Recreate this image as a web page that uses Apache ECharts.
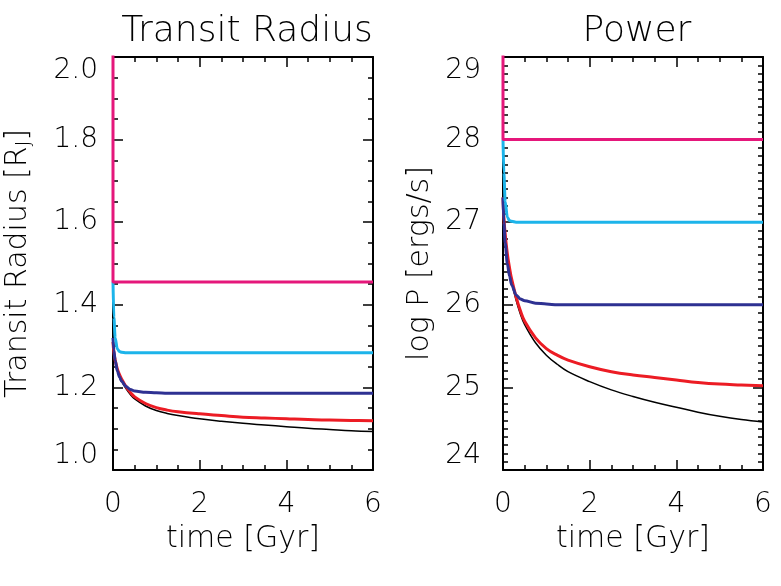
<!DOCTYPE html>
<html>
<head>
<meta charset="utf-8">
<script src="https://cdn.jsdelivr.net/npm/echarts@6/dist/echarts.min.js"></script>
<style>
  html, body { margin: 0; padding: 0; background: #fff; }
  #chart { width: 781px; height: 586px; }
</style>
</head>
<body>
<div id="chart"></div>
<script>
// time grid [Gyr]
const times = [0, 0.02, 0.05, 0.1, 0.15, 0.2, 0.3, 0.4, 0.5, 0.75, 1, 1.25, 1.5, 2, 2.5, 3, 3.5, 4, 4.5, 5, 5.5, 6];

// transit radius [R_J]
const radiusBlack = [1.31, 1.285, 1.265, 1.243, 1.228, 1.216, 1.197, 1.183, 1.172, 1.155, 1.144, 1.137, 1.132, 1.124, 1.118, 1.113, 1.109, 1.105, 1.101, 1.098, 1.095, 1.093];
const radiusRed = [1.31, 1.285, 1.266, 1.245, 1.231, 1.22, 1.202, 1.188, 1.177, 1.161, 1.151, 1.145, 1.141, 1.136, 1.132, 1.128, 1.126, 1.124, 1.122, 1.121, 1.12, 1.119];
const radiusNavy = [1.32, 1.29, 1.265, 1.24, 1.225, 1.215, 1.202, 1.195, 1.191, 1.188, 1.187, 1.186, 1.186, 1.186, 1.186, 1.186, 1.186, 1.186, 1.186, 1.186, 1.186, 1.186];
const radiusCyan = [1.455, 1.37, 1.32, 1.293, 1.287, 1.285, 1.284, 1.284, 1.284, 1.284, 1.284, 1.284, 1.284, 1.284, 1.284, 1.284, 1.284, 1.284, 1.284, 1.284, 1.284, 1.284];
const radiusMagentaT = [0, 0, 6];
const radiusMagenta = [2.2, 1.455, 1.455];

// log power [ergs/s]
const powerBlack = [27.3, 27.05, 26.85, 26.6, 26.42, 26.28, 26.06, 25.89, 25.76, 25.54, 25.39, 25.28, 25.19, 25.07, 24.97, 24.89, 24.82, 24.76, 24.7, 24.65, 24.61, 24.58];
const powerRed = [27.3, 27.05, 26.86, 26.62, 26.45, 26.31, 26.1, 25.93, 25.8, 25.6, 25.47, 25.39, 25.33, 25.25, 25.19, 25.15, 25.12, 25.09, 25.06, 25.04, 25.03, 25.02];
const powerNavy = [27.3, 27.0, 26.75, 26.5, 26.35, 26.24, 26.12, 26.07, 26.05, 26.02, 26.01, 26.0, 26.0, 26.0, 26.0, 26.0, 26.0, 26.0, 26.0, 26.0, 26.0, 26.0];
const powerCyan = [28.0, 27.6, 27.25, 27.06, 27.02, 27.01, 27.0, 27.0, 27.0, 27.0, 27.0, 27.0, 27.0, 27.0, 27.0, 27.0, 27.0, 27.0, 27.0, 27.0, 27.0, 27.0];
const powerMagentaT = [0, 0, 6];
const powerMagenta = [29.5, 28.0, 28.0];

const FONT = "DejaVu Sans";
const colors = { black: "#000000", red: "#ec1c24", navy: "#2e3192", cyan: "#1cb4ea", magenta: "#e5177b" };

function pairs(xs, ys) {
  return xs.map((x, i) => [x, ys[i]]);
}

// monotone: keep flat plateaus from overshooting
function line(idx, xs, ys, color, width, z, smooth, monotone) {
  return {
    type: "line",
    xAxisIndex: idx,
    yAxisIndex: idx,
    data: pairs(xs, ys),
    showSymbol: false,
    smooth: smooth,
    smoothMonotone: monotone ? "x" : null,
    clip: true,
    z: z,
    lineStyle: { color: color, width: width },
  };
}

const tickStyle = { color: "#000", width: 1.5 };
const txt = { fontFamily: FONT, color: "#000", fontWeight: 200 };

// labelled x axis at the bottom
function xMain(grid) {
  return {
    type: "value", gridIndex: grid, min: 0, max: 6, interval: 2,
    name: "time [Gyr]", nameLocation: "middle", nameGap: 54,
    nameTextStyle: Object.assign({ fontSize: 30 }, txt),
    axisLine: { show: true, lineStyle: { color: "#000", width: 2 } },
    axisTick: { show: true, inside: true, length: 10, lineStyle: tickStyle },
    minorTick: { show: true, splitNumber: 4, length: 5, lineStyle: tickStyle },
    axisLabel: Object.assign({ margin: 21, fontSize: 28 }, txt),
    splitLine: { show: false },
  };
}
// mirror x axis on top, ticks only
function xTop(grid) {
  return {
    type: "value", gridIndex: grid, min: 0, max: 6, interval: 2, position: "top",
    axisLine: { show: true, onZero: false, lineStyle: { color: "#000", width: 2 } },
    axisTick: { show: true, inside: true, length: 10, lineStyle: tickStyle },
    minorTick: { show: true, splitNumber: 4, length: 5, lineStyle: tickStyle },
    axisLabel: { show: false },
    splitLine: { show: false },
  };
}
function yMain(grid, min, max, interval, minorSplit, name, nameGap, margin, fmt) {
  return {
    type: "value", gridIndex: grid, min: min, max: max, interval: interval,
    name: name, nameLocation: "middle", nameGap: nameGap,
    nameTextStyle: Object.assign({
      fontSize: 30,
      rich: {
        n: Object.assign({ fontSize: 30 }, txt),
        s: Object.assign({ fontSize: 19, padding: [13, 0, 0, 0] }, txt),
      },
    }, txt),
    axisLine: { show: true, onZero: false, lineStyle: { color: "#000", width: 2 } },
    axisTick: { show: true, inside: true, length: 10, lineStyle: tickStyle },
    minorTick: { show: true, splitNumber: minorSplit, length: 5, lineStyle: tickStyle },
    axisLabel: Object.assign({
      margin: margin, fontSize: 28,
      formatter: fmt,
      verticalAlignMinLabel: "bottom",
      verticalAlignMaxLabel: "top",
    }, txt),
    splitLine: { show: false },
  };
}
// mirror y axis on the right, ticks only
function yRight(grid, min, max, interval, minorSplit) {
  return {
    type: "value", gridIndex: grid, min: min, max: max, interval: interval, position: "right",
    axisLine: { show: true, onZero: false, lineStyle: { color: "#000", width: 2 } },
    axisTick: { show: true, inside: true, length: 10, lineStyle: tickStyle },
    minorTick: { show: true, splitNumber: minorSplit, length: 5, lineStyle: tickStyle },
    axisLabel: { show: false },
    splitLine: { show: false },
  };
}

const chart = echarts.init(document.getElementById("chart"), null, { renderer: "canvas" });

const option = {
  animation: false,
  backgroundColor: "#fff",
  title: [
    { text: "Transit Radius", left: 242, top: 9, textAlign: "center",
      textStyle: Object.assign({ fontSize: 36 }, txt) },
    { text: "Power", left: 632, top: 9, textAlign: "center",
      textStyle: Object.assign({ fontSize: 36 }, txt) },
  ],
  grid: [
    { left: 113, right: 408, top: 57, bottom: 116, outerBoundsMode: "none" },
    { left: 503, right: 18, top: 57, bottom: 116, outerBoundsMode: "none" },
  ],
  xAxis: [xMain(0), xMain(1), xTop(0), xTop(1)],
  yAxis: [
    yMain(0, 1.0, 2.0, 0.2, 4, "{n|Transit Radius [R}{s|J}{n|]}", 79, 15, (v) => v.toFixed(1)),
    yMain(1, 24, 29, 1, 10, "log P [ergs/s]", 68, 22, (v) => String(v)),
    yRight(0, 1.0, 2.0, 0.2, 4),
    yRight(1, 24, 29, 1, 10),
  ],
  series: [
    line(0, times, radiusBlack, colors.black, 1.5, 2, 0.4, false),
    line(0, times, radiusRed, colors.red, 3, 3, 0.4, false),
    line(0, times, radiusNavy, colors.navy, 3, 4, 0.3, true),
    line(0, times, radiusCyan, colors.cyan, 3, 5, 0.3, true),
    line(0, radiusMagentaT, radiusMagenta, colors.magenta, 3, 6, false, false),
    line(1, times, powerBlack, colors.black, 1.5, 2, 0.4, false),
    line(1, times, powerRed, colors.red, 3, 3, 0.4, false),
    line(1, times, powerNavy, colors.navy, 3, 4, 0.3, true),
    line(1, times, powerCyan, colors.cyan, 3, 5, 0.3, true),
    line(1, powerMagentaT, powerMagenta, colors.magenta, 3, 6, false, false),
  ],
};

chart.setOption(option);
</script>
</body>
</html>
